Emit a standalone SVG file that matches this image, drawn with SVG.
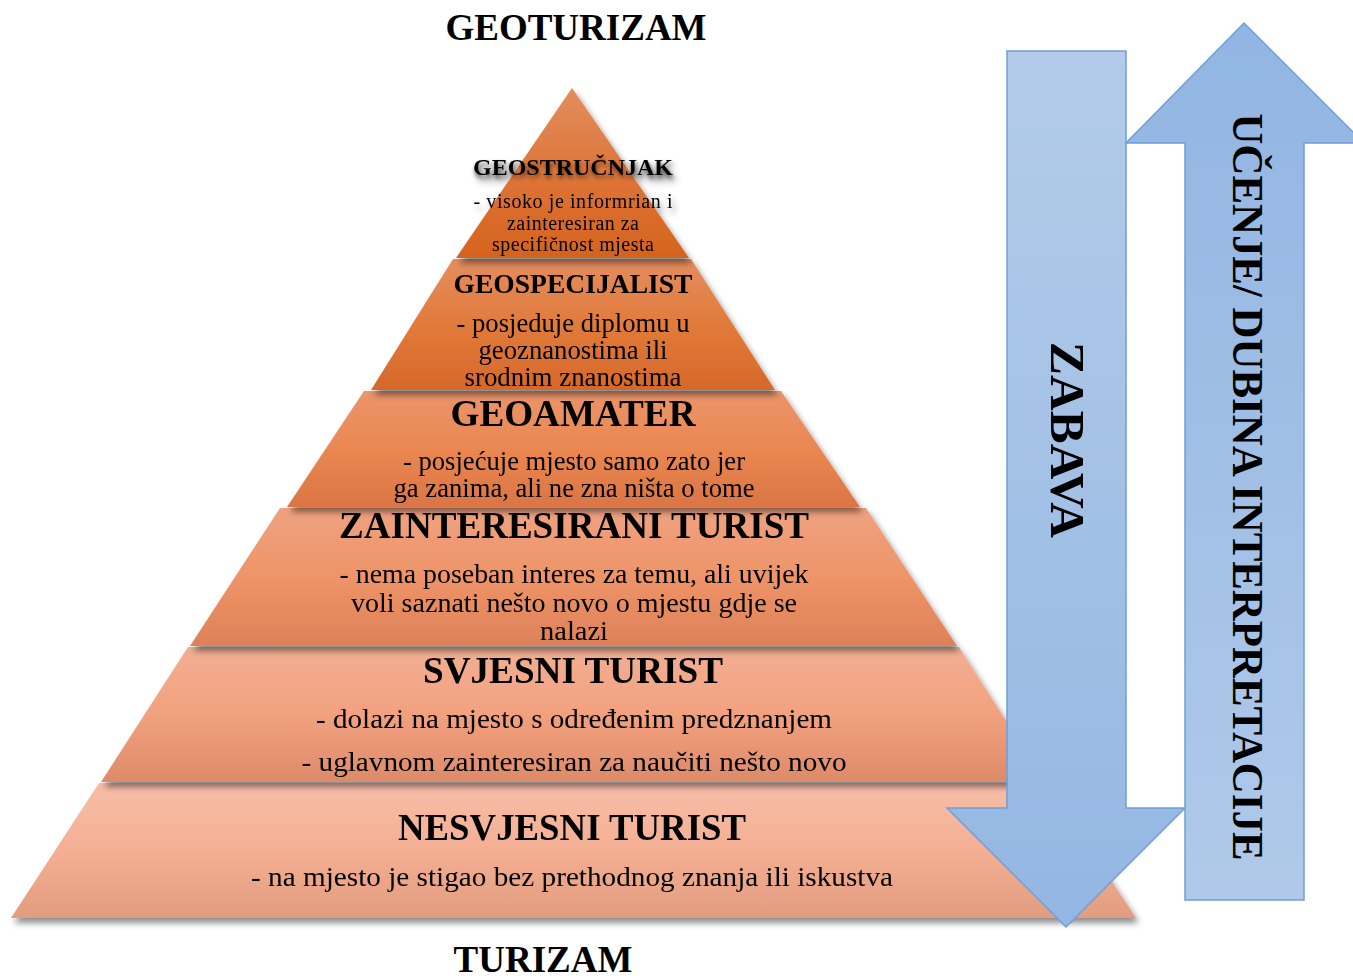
<svg xmlns="http://www.w3.org/2000/svg" width="1353" height="976" viewBox="0 0 1353 976">
<defs>
<linearGradient id="g1" x1="0" y1="0" x2="0" y2="1"><stop offset="0" stop-color="#E38D5C"/><stop offset="0.6" stop-color="#DC7133"/><stop offset="1" stop-color="#D5631E"/></linearGradient>
<linearGradient id="g2" x1="0" y1="0" x2="0" y2="1"><stop offset="0" stop-color="#E58D5F"/><stop offset="0.55" stop-color="#E07938"/><stop offset="1" stop-color="#D6682A"/></linearGradient>
<linearGradient id="g3" x1="0" y1="0" x2="0" y2="1"><stop offset="0" stop-color="#EA956B"/><stop offset="0.5" stop-color="#EA8751"/><stop offset="1" stop-color="#DB7544"/></linearGradient>
<linearGradient id="g4" x1="0" y1="0" x2="0" y2="1"><stop offset="0" stop-color="#EFA281"/><stop offset="0.5" stop-color="#EE9468"/><stop offset="1" stop-color="#DE8158"/></linearGradient>
<linearGradient id="g5" x1="0" y1="0" x2="0" y2="1"><stop offset="0" stop-color="#F2AF93"/><stop offset="0.5" stop-color="#F2A17F"/><stop offset="1" stop-color="#DD8A69"/></linearGradient>
<linearGradient id="g6" x1="0" y1="0" x2="0" y2="1"><stop offset="0" stop-color="#F6BEA8"/><stop offset="0.5" stop-color="#F4AF93"/><stop offset="1" stop-color="#E29C80"/></linearGradient>
<linearGradient id="gDown" x1="0" y1="0" x2="0" y2="1"><stop offset="0" stop-color="#B3CBE9"/><stop offset="1" stop-color="#93B7E2"/></linearGradient>
<linearGradient id="gUp" x1="0" y1="0" x2="0" y2="1"><stop offset="0" stop-color="#91B5E2"/><stop offset="1" stop-color="#B0C9E9"/></linearGradient>
<filter id="shadow" x="-10%" y="-10%" width="120%" height="130%">
<feDropShadow dx="3" dy="5" stdDeviation="3" flood-color="#000" flood-opacity="0.45"/>
</filter>
<filter id="tshadow" x="-10%" y="-30%" width="120%" height="160%">
<feGaussianBlur in="SourceAlpha" stdDeviation="2.2" result="b"/>
<feOffset in="b" dx="1" dy="3" result="o"/>
<feComponentTransfer in="o" result="s"><feFuncA type="linear" slope="0.55"/></feComponentTransfer>
<feMerge><feMergeNode in="s"/><feMergeNode in="SourceGraphic"/></feMerge>
</filter>
</defs>
<style>
text{font-family:"Liberation Serif","Times New Roman",serif;fill:#000;text-anchor:middle}
.h{font-weight:bold}
.t{font-size:27px}
</style>

<g id="title-top"><text class="h" x="576" y="40" font-size="37">GEOTURIZAM</text></g>
<g id="title-bottom"><text class="h" x="543" y="972" font-size="37">TURIZAM</text></g>

<g id="layer6" filter="url(#shadow)">
<path d="M99,783 L1047,783 L1136,918 L11,918 Z" fill="url(#g6)"/>
<text class="h" x="572" y="840" font-size="38" textLength="348" lengthAdjust="spacingAndGlyphs">NESVJESNI TURIST</text>
<text class="t" x="572" y="886" textLength="642" lengthAdjust="spacingAndGlyphs">- na mjesto je stigao bez prethodnog znanja ili iskustva</text>
</g>
<g id="layer5" filter="url(#shadow)">
<path d="M188,647 L959,647 L1045,782 L101,782 Z" fill="url(#g5)"/>
<text class="h" x="573" y="683" font-size="38" textLength="300" lengthAdjust="spacingAndGlyphs">SVJESNI TURIST</text>
<text class="t" x="574" y="728" textLength="516" lengthAdjust="spacingAndGlyphs">- dolazi na mjesto s određenim predznanjem</text>
<text class="t" x="574" y="771" textLength="545" lengthAdjust="spacingAndGlyphs">- uglavnom zainteresiran za naučiti nešto novo</text>
</g>
<g id="layer4" filter="url(#shadow)">
<path d="M280,508 L866,508 L957,646 L190,646 Z" fill="url(#g4)"/>
<text class="h" x="574" y="538" font-size="38" textLength="470" lengthAdjust="spacingAndGlyphs">ZAINTERESIRANI TURIST</text>
<text class="t" x="574" y="583" textLength="469" lengthAdjust="spacingAndGlyphs">- nema poseban interes za temu, ali uvijek</text>
<text class="t" x="574" y="612" textLength="446" lengthAdjust="spacingAndGlyphs">voli saznati nešto novo o mjestu gdje se</text>
<text class="t" x="574" y="640" textLength="68" lengthAdjust="spacingAndGlyphs">nalazi</text>
</g>
<g id="layer3" filter="url(#shadow)">
<path d="M364,391 L781,391 L860,507 L287,507 Z" fill="url(#g3)"/>
<text class="h" x="573" y="426" font-size="37" textLength="245" lengthAdjust="spacingAndGlyphs">GEOAMATER</text>
<text class="t" x="574" y="470" font-size="24" textLength="342" lengthAdjust="spacingAndGlyphs">- posjećuje mjesto samo zato jer</text>
<text class="t" x="574" y="497" font-size="24" textLength="361" lengthAdjust="spacingAndGlyphs">ga zanima, ali ne zna ništa o tome</text>
</g>
<g id="layer2" filter="url(#shadow)">
<path d="M453,259 L691,259 L775,390 L371,390 Z" fill="url(#g2)"/>
<text class="h" x="573" y="293" font-size="28" textLength="239" lengthAdjust="spacingAndGlyphs">GEOSPECIJALIST</text>
<text class="t" x="573" y="332" font-size="24" textLength="233" lengthAdjust="spacingAndGlyphs">- posjeduje diplomu u</text>
<text class="t" x="573" y="359" font-size="24" textLength="189" lengthAdjust="spacingAndGlyphs">geoznanostima ili</text>
<text class="t" x="573" y="386" font-size="24" textLength="217" lengthAdjust="spacingAndGlyphs">srodnim znanostima</text>
</g>
<g id="layer1" filter="url(#shadow)">
<path d="M572,88 L689,258 L456,258 Z" fill="url(#g1)"/>
<text class="h" x="573" y="175" font-size="24" textLength="200" lengthAdjust="spacingAndGlyphs" filter="url(#tshadow)">GEOSTRUČNJAK</text>
<text x="573" y="208" font-size="20" textLength="199">- visoko je informrian i</text>
<text x="573" y="230" font-size="20" textLength="132">zainteresiran za</text>
<text x="573" y="251" font-size="20" textLength="162">specifičnost mjesta</text>
</g>

<g id="arrow-zabava">
<path d="M1007,51 L1126,51 L1126,808 L1185,808 L1066,927 L947,808 L1007,808 Z" fill="url(#gDown)" stroke="#6E9FD7" stroke-width="1.5"/>
<text class="h" transform="translate(1067,440) rotate(90)" x="0" y="16" font-size="48" textLength="196" lengthAdjust="spacingAndGlyphs">ZABAVA</text>
</g>
<g id="arrow-ucenje">
<path d="M1244,23 L1364,143 L1304,143 L1304,900 L1185,900 L1185,143 L1126,143 Z" fill="url(#gUp)" stroke="#6E9FD7" stroke-width="1.5"/>
<text class="h" transform="translate(1248,487) rotate(90)" x="0" y="15" font-size="45" textLength="747" lengthAdjust="spacingAndGlyphs">UČENJE/ DUBINA INTERPRETACIJE</text>
</g>
<g id="connectors"/>
</svg>
